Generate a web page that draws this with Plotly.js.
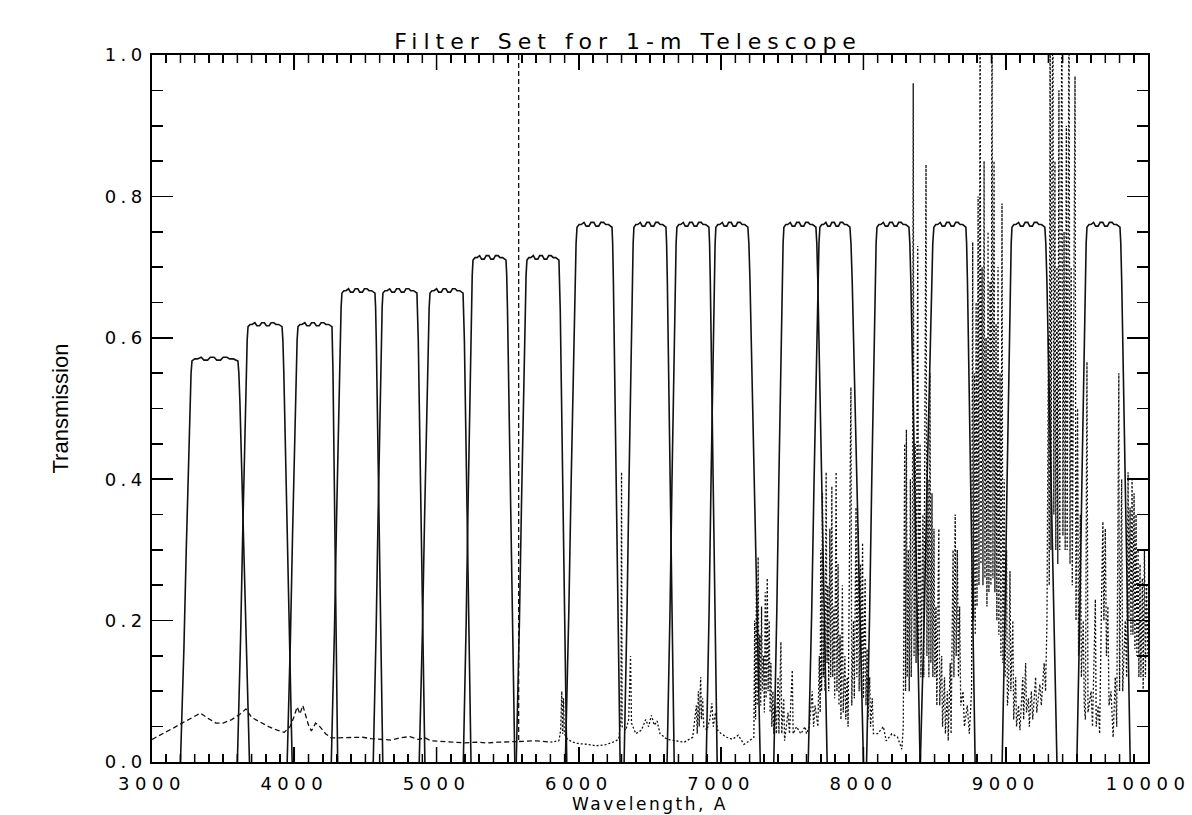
<!DOCTYPE html>
<html>
<head>
<meta charset="utf-8">
<script src="https://cdn.plot.ly/plotly-3.0.1.min.js"></script>
<style>
html,body{margin:0;padding:0;background:#fff;}
#chart{width:1192px;height:815px;}
.xtick text{letter-spacing:5.5px;}
.ytick text{letter-spacing:4.5px;}
.gtitle{letter-spacing:6px;}
.xtitle{letter-spacing:2.5px;}
path.xtick{stroke:#000 !important;stroke-opacity:1 !important;stroke-width:1.6px !important;visibility:visible !important;display:inline !important;}
</style>
</head>
<body>
<div id="chart"></div>
<script>
// ---- Filter passbands (wavelength in Angstrom, transmission) ----
const filterBaseLeft  = [3200,3600,3950,4260,4555,4878,5188,5560,5905,6318,6620,6895,7370,7612,8022,8400,8975,9500];
const filterTopLeft   = [3281,3675,4026,4335,4623,4954,5256,5635,5987,6387,6689,6963,7441,7694,8095,8495,9044,9571];
const filterTopRight  = [3604,3914,4265,4567,4862,5186,5488,5860,6233,6612,6914,7188,7666,7905,8320,8720,9275,9803];
const filterBaseRight = [3685,3985,4305,4622,4918,5242,5550,5915,6290,6670,6972,7275,7745,8000,8398,8785,9360,9875];
const filterPeak      = [0.573,0.622,0.622,0.670,0.670,0.670,0.717,0.717,0.764,0.764,0.764,0.764,0.764,0.764,0.764,0.764,0.764,0.764];

// shared edge profile (fraction of the way from base to top corner, fraction of peak)
const edgeFrac  = [0, 0.15, 0.30, 0.50, 0.70, 0.83, 0.92, 1.00];
const edgeLevel = [0, 0.12, 0.28, 0.52, 0.75, 0.89, 0.96, 1.00];
// ripple across the flat top (fraction across top, fraction of peak)
const rippleFrac  = [0, 0.06, 0.12, 0.20, 0.26, 0.34, 0.40, 0.48, 0.54, 0.62, 0.68, 0.76, 0.82, 0.90, 1.00];
const rippleLevel = [0.990,0.995,0.995,0.999,0.992,0.992,0.999,0.999,0.992,0.992,0.999,0.999,0.995,0.995,0.990];

// ---- Sky spectrum, blue part (dashed) [wavelength, relative flux]; null breaks the 5577 line ----
const skyBlue = [
 [3000,.032],[3080,.040],[3150,.048],[3220,.056],[3300,.065],[3340,.069],[3400,.061],[3450,.055],[3500,.055],
 [3560,.060],[3620,.068],[3660,.075],[3700,.063],[3760,.056],[3820,.050],[3880,.045],[3930,.042],[3970,.050],
 [4000,.065],[4020,.078],[4040,.068],[4060,.080],[4080,.066],[4100,.052],[4120,.044],[4150,.055],[4180,.050],
 [4220,.040],[4260,.034],[4300,.034],[4360,.035],[4420,.034],[4480,.035],[4540,.033],[4600,.032],[4680,.031],
 [4740,.034],[4813,.036],[4870,.032],[4920,.034],[4960,.030],[5020,.029],[5100,.028],[5200,.027],[5280,.028],
 [5350,.027],[5430,.028],[5500,.028],[5570,.029],[5577,.029],[5577,1.05],[5577,null],[5579,.029],[5640,.030],[5700,.030],[5800,.028]
];

// ---- Sky spectrum, red part with OH emission forest (dotted) ----
const skyRed = [
 [5800,.028],[5860,.030],[5872,.045],[5880,.100],[5886,.040],[5892,.090],[5898,.040],[5920,.032],[5960,.028],
 [6000,.026],[6060,.025],[6120,.023],[6180,.024],[6240,.028],[6280,.032],[6296,.060],[6300,.410],[6304,.050],
 [6330,.045],[6350,.060],[6363,.150],[6370,.055],[6400,.040],[6440,.045],[6470,.060],[6490,.050],[6510,.066],
 [6530,.052],[6550,.058],[6570,.040],[6620,.032],[6680,.030],[6740,.028],[6800,.035],[6826,.080],[6832,.040],
 [6840,.100],[6846,.050],[6856,.120],[6862,.060],[6870,.090],[6878,.050],[6900,.045],[6920,.060],[6935,.083],
 [6945,.050],[6960,.070],[6975,.045],[7000,.040],[7040,.035],[7080,.032],[7120,.038],[7160,.025],[7200,.030],
 [7230,.035],[7236,.200],[7242,.060],[7248,.250],[7254,.080],[7260,.290],[7266,.100],[7272,.180],[7278,.080],
 [7284,.220],[7290,.100],[7298,.150],[7304,.070],[7310,.240],[7316,.090],[7324,.260],[7330,.100],[7338,.200],
 [7344,.070],[7350,.140],[7356,.050],[7364,.100],[7370,.040],[7380,.080],[7388,.040],[7400,.120],[7406,.040],
 [7420,.170],[7426,.040],[7440,.090],[7446,.030],[7470,.070],[7480,.040],[7500,.130],[7506,.040],[7530,.050],
 [7560,.040],[7590,.050],[7600,.040],[7620,.050],[7640,.100],[7650,.050],[7660,.080],[7680,.050],[7690,.150],
 [7696,.070],[7700,.300],[7706,.100],[7712,.380],[7718,.120],[7724,.200],[7730,.100],[7738,.410],[7744,.140],
 [7750,.250],[7756,.100],[7764,.330],[7770,.120],[7778,.390],[7784,.120],[7792,.220],[7798,.090],[7808,.410],
 [7814,.100],[7822,.280],[7828,.080],[7836,.180],[7842,.060],[7852,.250],[7858,.070],[7870,.150],[7876,.060],
 [7886,.120],[7892,.050],[7912,.530],[7918,.080],[7930,.200],[7936,.090],[7948,.360],[7954,.120],[7964,.330],
 [7970,.100],[7980,.280],[7986,.100],[7994,.310],[8000,.090],[8012,.260],[8018,.080],[8026,.160],[8032,.060],
 [8044,.120],[8050,.050],[8062,.090],[8070,.040],[8100,.040],[8140,.050],[8160,.030],[8200,.040],[8240,.035],
 [8270,.018],[8280,.050],[8290,.450],[8296,.100],[8302,.470],[8308,.120],[8316,.300],[8322,.100],[8330,.400],
 [8336,.120],[8344,.250],[8350,.960],[8356,.150],[8364,.450],[8370,.140],[8382,.730],[8388,.150],[8398,.450],
 [8404,.120],[8418,.350],[8424,.120],[8432,.500],[8440,.845],[8446,.150],[8454,.400],[8460,.120],[8468,.550],
 [8474,.140],[8482,.380],[8488,.120],[8496,.330],[8502,.120],[8510,.220],[8516,.080],[8530,.330],[8536,.080],
 [8550,.150],[8556,.050],[8570,.120],[8576,.040],[8590,.100],[8596,.030],[8610,.140],[8616,.040],[8630,.300],
 [8636,.120],[8645,.350],[8652,.150],[8660,.300],[8668,.120],[8676,.220],[8684,.080],[8700,.100],[8710,.050],
 [8730,.080],[8744,.040],[8760,.100],[8768,.735],[8774,.200],[8780,.550],[8786,.180],[8792,.650],[8798,.220],
 [8806,.800],[8812,.250],[8820,1.10],[8826,.280],[8834,.700],[8840,.250],[8848,.850],[8854,.260],[8862,.600],
 [8868,.220],[8876,.750],[8882,.240],[8890,.680],[8896,.250],[8904,1.10],[8910,.260],[8918,.850],[8924,.240],
 [8932,.620],[8938,.200],[8946,.700],[8952,.180],[8960,.550],[8966,.150],[8974,.790],[8980,.140],[8990,.400],
 [8996,.120],[9006,.300],[9012,.080],[9020,.100],[9030,.270],[9036,.100],[9050,.200],[9056,.060],[9070,.120],
 [9076,.050],[9090,.080],[9100,.045],[9120,.120],[9126,.060],[9140,.140],[9146,.070],[9160,.090],[9166,.050],
 [9180,.100],[9190,.060],[9210,.120],[9218,.070],[9240,.110],[9250,.080],[9270,.140],[9280,.100],[9290,.200],
 [9300,.600],[9306,.250],[9312,1.10],[9318,.300],[9326,.900],[9332,1.10],[9338,.350],[9346,.850],[9352,.300],
 [9360,.700],[9366,.280],[9374,.950],[9380,.300],[9388,.800],[9395,1.10],[9402,.320],[9410,.750],[9418,.300],
 [9426,.900],[9432,.300],[9445,1.10],[9452,.280],[9460,.700],[9468,.250],[9476,.600],[9487,.970],[9494,.200],
 [9505,.500],[9512,.150],[9525,.350],[9532,.120],[9545,.200],[9552,.080],[9560,.060],[9571,.566],[9578,.070],
 [9600,.100],[9610,.050],[9630,.230],[9636,.050],[9650,.080],[9660,.040],[9675,.250],[9683,.340],[9690,.200],
 [9700,.330],[9708,.150],[9718,.220],[9726,.080],[9740,.100],[9755,.035],[9770,.120],[9780,.050],[9795,.550],
 [9800,.100],[9815,.400],[9822,.100],[9840,.200],[9850,.120],[9860,.410],[9866,.200],[9874,.360],[9880,.180],
 [9888,.400],[9894,.180],[9902,.380],[9908,.160],[9916,.350],[9922,.150],[9930,.300],[9936,.120],[9944,.280],
 [9950,.120],[9960,.260],[9966,.100],[9975,.300],[9982,.120],[9990,.250],[10000,.150]
];

const xRange = [3000, 10000];
const yRange = [0, 1];
const xMajorStep = 1000;
const xMinorStep = 100;

// ---- build traces ----
const traces = [];
for (let i = 0; i < filterPeak.length; i++) {
  const xs = [], ys = [];
  const bl = filterBaseLeft[i], tl = filterTopLeft[i], tr = filterTopRight[i], br = filterBaseRight[i], p = filterPeak[i];
  for (let k = 0; k < edgeFrac.length - 1; k++) { xs.push(bl + edgeFrac[k]*(tl-bl)); ys.push(edgeLevel[k]*p); }
  for (let k = 0; k < rippleFrac.length; k++) { xs.push(tl + rippleFrac[k]*(tr-tl)); ys.push(rippleLevel[k]*p); }
  for (let k = edgeFrac.length - 2; k >= 0; k--) { xs.push(br - edgeFrac[k]*(br-tr)); ys.push(edgeLevel[k]*p); }
  traces.push({x: xs, y: ys, type: 'scatter', mode: 'lines', hoverinfo: 'skip',
    line: {color: '#111', width: 1.6}});
}
traces.push({x: skyBlue.map(d => d[0]), y: skyBlue.map(d => d[1]), type: 'scatter', mode: 'lines',
  connectgaps: false, line: {color: '#111', width: 1.3, dash: '5px,3px'}, hoverinfo: 'skip'});
traces.push({x: skyRed.map(d => d[0]), y: skyRed.map(d => d[1]), type: 'scatter', mode: 'lines',
  line: {color: '#111', width: 1.3, dash: '2px,2px'}, hoverinfo: 'skip'});

// x-axis tick marks (bottom and mirrored top) drawn as pixel-sized axis-anchored shapes
const tickShapes = [];
for (let v = xRange[0] + xMinorStep; v < xRange[1]; v += xMinorStep) {
  const len = (v % xMajorStep === 0) ? 15 : 8;
  const ln = {color: '#000', width: 1.5};
  tickShapes.push({type: 'line', xref: 'x', yref: 'y', x0: v, x1: v, ysizemode: 'pixel', yanchor: yRange[0], y0: 0, y1: len, line: ln, layer: 'above'});
  tickShapes.push({type: 'line', xref: 'x', yref: 'y', x0: v, x1: v, ysizemode: 'pixel', yanchor: yRange[1], y0: 0, y1: -len, line: ln, layer: 'above'});
}

const axisCommon = {
  showline: true, linecolor: '#000', linewidth: 1.6, mirror: 'ticks',
  ticks: 'inside', tickcolor: '#000', tickwidth: 1.6,
  showgrid: false, zeroline: false, tickmode: 'linear'
};

const layout = {
  width: 1192, height: 815,
  paper_bgcolor: '#fff', plot_bgcolor: '#fff',
  margin: {l: 152, r: 44, t: 55, b: 53},
  showlegend: false,
  font: {family: 'DejaVu Sans, sans-serif', color: '#000', size: 18},
  title: {text: 'Filter Set for 1-m Telescope', font: {size: 22, color: '#000'},
          x: 0.478, xref: 'paper', xanchor: 'center', y: 1, yref: 'paper', yanchor: 'bottom', pad: {b: 6}},
  shapes: tickShapes,
  xaxis: Object.assign({}, axisCommon, {
    range: xRange, tick0: xRange[0], dtick: xMajorStep, tickformat: 'd', ticklen: 15,
    ticklabelstandoff: 5,
    minor: {dtick: xMinorStep, ticks: 'inside', ticklen: 8, tickwidth: 1.6, tickcolor: '#000'},
    tickfont: {size: 18},
    title: {text: 'Wavelength, A', font: {size: 17}, standoff: 3}
  }),
  yaxis: Object.assign({}, axisCommon, {
    range: yRange, tick0: 0, dtick: 0.2, tickformat: '.1f', ticklen: 21,
    minor: {dtick: 0.05, ticks: 'inside', ticklen: 11, tickwidth: 1.6, tickcolor: '#000'},
    tickfont: {size: 18},
    title: {text: 'Transmission', font: {family: 'Liberation Sans Narrow, Liberation Sans, sans-serif', size: 22}, standoff: 30}
  })
};

Plotly.newPlot('chart', traces, layout, {displayModeBar: false, staticPlot: true});
</script>
</body>
</html>
